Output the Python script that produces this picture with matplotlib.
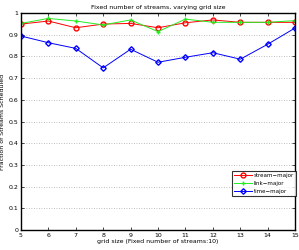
import matplotlib
matplotlib.use("Agg")
import matplotlib.pyplot as plt
import numpy as np

grid_size = [5, 6, 7, 8, 9, 10, 11, 12, 13, 14, 15]
stream_major = [0.949, 0.963, 0.932, 0.949, 0.952, 0.932, 0.955, 0.968, 0.957, 0.957, 0.957]
link_major = [0.952, 0.975, 0.963, 0.945, 0.968, 0.914, 0.972, 0.957, 0.957, 0.957, 0.965]
time_major = [0.894, 0.863, 0.837, 0.747, 0.833, 0.773, 0.796, 0.817, 0.787, 0.856, 0.931]

fs = 4.5
fig = plt.figure(figsize=(2.99, 2.5), dpi=100)
ax = fig.add_axes([0.070, 0.080, 0.917, 0.868])

ax.plot(grid_size, stream_major, color='red', marker='o', markersize=3.5,
        markerfacecolor='none', linewidth=0.7, label='stream\u2212major')
ax.plot(grid_size, link_major, color='#22ee22', marker='+', markersize=3.5,
        linewidth=0.7, label='link\u2212major')
ax.plot(grid_size, time_major, color='blue', marker='D', markersize=2.8,
        markerfacecolor='none', linewidth=0.7, label='time\u2212major')

ax.set_xlim(5, 15)
ax.set_ylim(0, 1)
ax.set_xticks(range(5, 16))
ax.set_yticks(np.arange(0, 1.01, 0.1))
ax.set_yticklabels(['0', '0.1', '0.2', '0.3', '0.4', '0.5', '0.6', '0.7', '0.8', '0.9', '1'])
ax.tick_params(direction='in', labelsize=fs, length=2, width=0.5, pad=2,
               top=True, right=True)
ax.yaxis.grid(True, linestyle=(0, (1, 2)), color='#aaaaaa', linewidth=0.6)
for s in ax.spines.values():
    s.set_linewidth(1.0)

ax.set_title('Fixed number of streams, varying grid size', fontsize=fs, pad=3)
ax.set_xlabel('grid size (Fixed number of streams:10)', fontsize=fs, labelpad=1)
ax.set_ylabel('Fraction of Streams Scheduled', fontsize=fs, labelpad=2)

leg = ax.legend(loc='lower right', bbox_to_anchor=(1.003, 0.157), fontsize=4,
                frameon=True, fancybox=False, edgecolor='black',
                handlelength=3.2, handletextpad=0.4, borderpad=0.35,
                labelspacing=0.5, borderaxespad=0)
leg.get_frame().set_linewidth(0.8)

fig.savefig('out.png', dpi=100)
